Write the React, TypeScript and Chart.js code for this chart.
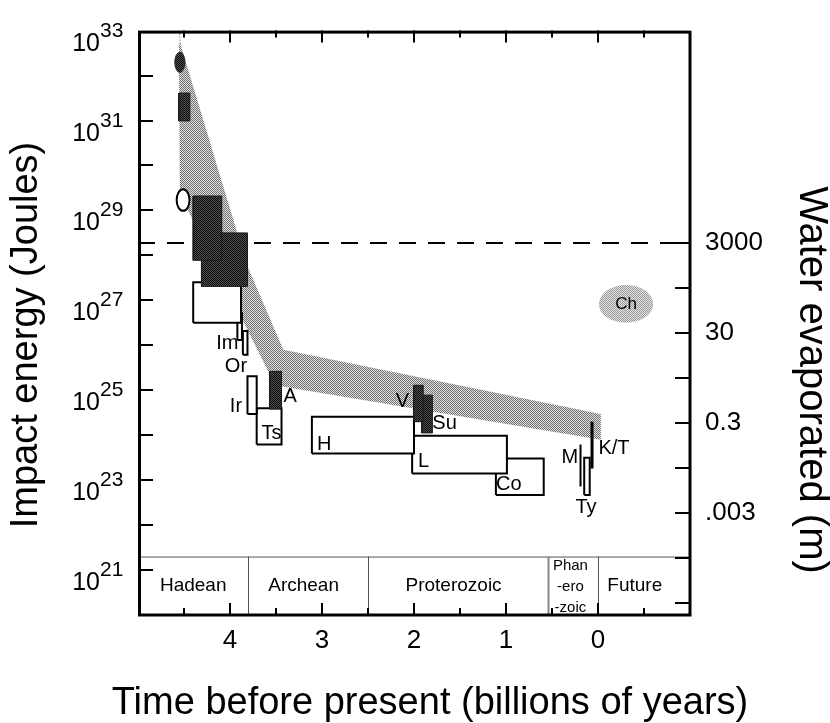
import React, { useEffect, useRef } from 'react';
import { Chart, registerables } from 'chart.js';

Chart.register(...registerables);

const FONT = '"Liberation Sans", Arial, Helvetica, sans-serif';

// ---------- axes ----------
const X_MIN = -1;
const X_MAX = 5;
const LOGE_MIN = 20;
const LOGE_MAX = 33;
const xTickLabels = [4, 3, 2, 1, 0];
const xTickMarks = [4.5, 4, 3.5, 3, 2.5, 2, 1.5, 1, 0.5, 0, -0.5];
const energyLabelExponents = [21, 23, 25, 27, 29, 31, 33];
const energyTickExponents = [21, 22, 23, 24, 25, 26, 27, 28, 29, 30, 31, 32];
const WATER_OFFSET = 24.8; // log10(J) per metre of water evaporated (approx.)
const waterLabelValues = [3000, 30, 0.3, 0.003];
const waterLabelTexts = ['3000', '30', '0.3', '.003'];
const waterTickValues = [3e-5, 3e-4, 3e-3, 3e-2, 0.3, 3, 30, 300, 3000];
const dashedWater = 3000;
const xTitle = 'Time before present (billions of years)';
const yTitle = 'Impact energy (Joules)';
const y2Title = 'Water evaporated (m)';

// ---------- shaded envelope ----------
const bandUpperX = [4.54, 3.815, 3.42, -0.03];
const bandUpperLogE = [32.71, 27.78, 25.9, 24.47];
const bandLowerX = [4.555, 4.545, 3.51, -0.03];
const bandLowerLogE = [32.71, 29.36, 25.11, 23.9];

// ---------- boxes (time range, log energy range) ----------
const boxNames = ['early', 'HadeanOpen', 'Hadean1', 'Hadean2', 'Im', 'Or', 'Ir', 'Ts', 'A', 'H', 'L', 'Co', 'Ty', 'V', 'Su'];
const boxXLeft = [4.556, 4.4, 4.4, 4.31, 3.92, 3.86, 3.81, 3.71, 3.57, 3.11, 2.02, 1.11, 0.15, 2.005, 1.916];
const boxXRight = [4.436, 3.88, 4.09, 3.81, 3.87, 3.81, 3.71, 3.44, 3.44, 2.0, 0.99, 0.59, 0.09, 1.9, 1.8];
const boxLogLow = [30.99, 26.5, 27.89, 27.31, 26.12, 25.79, 24.47, 23.79, 24.58, 23.59, 23.15, 22.67, 22.67, 24.3, 24.05];
const boxLogHigh = [31.61, 27.4, 29.32, 28.5, 26.72, 26.32, 25.31, 24.6, 25.42, 24.41, 23.99, 23.48, 23.5, 25.11, 24.89];
const boxDark = [true, false, true, true, false, false, false, false, true, false, false, false, false, true, true];

// ---------- vertical lines ----------
const lineNames = ['M', 'K/T'];
const lineX = [0.19, 0.065];
const lineLogLow = [22.86, 23.26];
const lineLogHigh = [23.79, 24.3];
const lineWidths = [2, 3];

// ---------- ellipses ----------
const ellipseNames = ['earlyEllipse', 'openEllipse', 'Ch'];
const ellXLeft = [4.6, 4.58, -0.01];
const ellXRight = [4.49, 4.44, -0.6];
const ellLogLow = [32.07, 28.99, 26.5];
const ellLogHigh = [32.52, 29.47, 27.34];
const ellStyle = ['dark', 'open', 'light'];

// ---------- text labels ----------
const labelTexts = ['Im', 'Or', 'Ir', 'A', 'Ts', 'H', 'V', 'Su', 'L', 'Co', 'M', 'Ty', 'K/T', 'Ch'];
const labelX = [4.03, 3.935, 3.935, 3.346, 3.55, 2.975, 2.125, 1.668, 1.896, 0.97, 0.305, 0.13, -0.174, -0.305];
const labelLogE = [26.04, 25.53, 24.63, 24.85, 24.03, 23.79, 24.74, 24.25, 23.41, 22.91, 23.5, 22.4, 23.7, 26.92];

// ---------- geological eras ----------
const eraNames = ['Hadean', 'Archean', 'Proterozoic', 'Phan|-ero|-zoic', 'Future'];
const eraStart = [5, 3.8, 2.5, 0.54, 0];
const eraLabelX = [4.4, 3.2, 1.57, 0.3, -0.4];
const eraTopLogE = 21.3;
const eraLabelLogE = 20.66;

const E = (l: number) => Math.pow(10, l);

function makePattern(fg: string, bg: string) {
  const c = document.createElement('canvas');
  c.width = 2;
  c.height = 2;
  const g = c.getContext('2d')!;
  g.fillStyle = bg;
  g.fillRect(0, 0, 2, 2);
  g.fillStyle = fg;
  g.fillRect(0, 0, 1, 1);
  g.fillRect(1, 1, 1, 1);
  return g.createPattern(c, 'repeat')!;
}

function rectPts(x1: number, x2: number, l1: number, l2: number) {
  return [
    { x: x1, y: E(l1) },
    { x: x2, y: E(l1) },
    { x: x2, y: E(l2) },
    { x: x1, y: E(l2) },
    { x: x1, y: E(l1) },
  ];
}

export default function App() {
  const ref = useRef<HTMLCanvasElement>(null);

  useEffect(() => {
    const canvas = ref.current!;
    const light = makePattern('#6e6e6e', '#e2e2e2');
    const dark = makePattern('#0c0c0c', '#505050');
    const chLight = makePattern('#999999', '#e4e4e4');

    const datasets: any[] = [];
    const bandPts = [
      ...bandUpperX.map((x, i) => ({ x, y: E(bandUpperLogE[i]) })),
      ...bandLowerX.map((x, i) => ({ x, y: E(bandLowerLogE[i]) })).reverse(),
    ];
    datasets.push({
      label: 'envelope',
      data: bandPts,
      fill: 'shape',
      backgroundColor: light,
      borderWidth: 0,
      borderColor: 'rgba(0,0,0,0)',
      order: 100,
    });
    datasets.push({
      label: 'apex',
      data: [
        { x: bandUpperX[0], y: E(bandUpperLogE[0]) },
        { x: bandUpperX[0] + 0.01, y: E(LOGE_MAX) },
      ],
      borderColor: '#444',
      borderWidth: 1,
      borderDash: [1, 2],
      fill: false,
      order: 95,
    });
    const dashedE = dashedWater * E(WATER_OFFSET);
    datasets.push({
      label: 'ocean vaporization',
      data: [
        { x: X_MAX, y: dashedE },
        { x: X_MIN, y: dashedE },
      ],
      borderColor: '#000',
      borderWidth: 2,
      borderDash: [17, 12],
      fill: false,
      order: 90,
    });
    boxNames.forEach((n, i) => {
      datasets.push({
        label: n,
        data: rectPts(boxXLeft[i], boxXRight[i], boxLogLow[i], boxLogHigh[i]),
        fill: 'shape',
        backgroundColor: boxDark[i] ? dark : '#ffffff',
        borderColor: boxDark[i] ? '#1a1a1a' : '#000',
        borderWidth: boxDark[i] ? 1 : 2,
        borderJoinStyle: 'miter',
        order: boxDark[i] ? 10 : 50,
      });
    });
    lineNames.forEach((n, i) => {
      datasets.push({
        label: n,
        data: [
          { x: lineX[i], y: E(lineLogLow[i]) },
          { x: lineX[i], y: E(lineLogHigh[i]) },
        ],
        borderColor: '#000',
        borderWidth: lineWidths[i],
        fill: false,
        order: 5,
      });
    });

    const decor = {
      id: 'decor',
      afterDatasetsDraw(chart: any) {
        const ctx = chart.ctx;
        const xs = chart.scales.x;
        const ys = chart.scales.y;
        const ca = chart.chartArea;
        ctx.save();
        ctx.beginPath();
        ctx.rect(ca.left, ca.top, ca.right - ca.left, ca.bottom - ca.top);
        ctx.clip();
        // ellipses
        ellipseNames.forEach((_, i) => {
          const x1 = xs.getPixelForValue(ellXLeft[i]);
          const x2 = xs.getPixelForValue(ellXRight[i]);
          const y1 = ys.getPixelForValue(E(ellLogLow[i]));
          const y2 = ys.getPixelForValue(E(ellLogHigh[i]));
          ctx.beginPath();
          ctx.ellipse((x1 + x2) / 2, (y1 + y2) / 2, Math.abs(x2 - x1) / 2, Math.abs(y2 - y1) / 2, 0, 0, Math.PI * 2);
          if (ellStyle[i] === 'dark') {
            ctx.fillStyle = dark;
            ctx.fill();
            ctx.lineWidth = 1;
            ctx.strokeStyle = '#222';
            ctx.stroke();
          } else if (ellStyle[i] === 'open') {
            ctx.fillStyle = '#fff';
            ctx.fill();
            ctx.lineWidth = 2;
            ctx.strokeStyle = '#000';
            ctx.stroke();
          } else {
            ctx.fillStyle = chLight;
            ctx.fill();
          }
        });
        // era band
        const eraTop = ys.getPixelForValue(E(eraTopLogE));
        ctx.strokeStyle = '#555';
        ctx.lineWidth = 1;
        ctx.beginPath();
        ctx.moveTo(ca.left, eraTop + 0.5);
        ctx.lineTo(ca.right, eraTop + 0.5);
        ctx.stroke();
        eraStart.forEach((s, i) => {
          if (i === 0) return;
          const px = Math.round(xs.getPixelForValue(s)) + 0.5;
          ctx.strokeStyle = i === 3 ? '#888' : '#555';
          ctx.lineWidth = i === 3 ? 2 : 1;
          ctx.beginPath();
          ctx.moveTo(px, eraTop);
          ctx.lineTo(px, ca.bottom);
          ctx.stroke();
        });
        ctx.fillStyle = '#000';
        ctx.textAlign = 'center';
        ctx.textBaseline = 'middle';
        eraNames.forEach((n, i) => {
          const px = xs.getPixelForValue(eraLabelX[i]);
          const py = ys.getPixelForValue(E(eraLabelLogE));
          const parts = n.split('|');
          if (parts.length === 1) {
            ctx.font = `19px ${FONT}`;
            ctx.fillText(n, px, py);
          } else {
            ctx.font = `15px ${FONT}`;
            parts.forEach((p, k) => ctx.fillText(p, px, py + (k - 1) * 21 + 2));
          }
        });
        // point labels
        labelTexts.forEach((t, i) => {
          ctx.font = t === 'Ch' ? `17px ${FONT}` : `20px ${FONT}`;
          ctx.fillText(t, xs.getPixelForValue(labelX[i]), ys.getPixelForValue(E(labelLogE[i])));
        });
        ctx.restore();
      },
      afterDraw(chart: any) {
        const ctx = chart.ctx;
        const xs = chart.scales.x;
        const ys = chart.scales.y;
        const y2 = chart.scales.y2;
        const ca = chart.chartArea;
        ctx.save();
        ctx.strokeStyle = '#000';
        // ticks (pointing inward)
        ctx.lineWidth = 2;
        energyTickExponents.forEach((e) => {
          const py = Math.round(ys.getPixelForValue(E(e)));
          ctx.beginPath();
          ctx.moveTo(ca.left, py);
          ctx.lineTo(ca.left + 15, py);
          ctx.stroke();
        });
        waterTickValues.forEach((w) => {
          const py = Math.round(y2.getPixelForValue(w));
          ctx.beginPath();
          ctx.moveTo(ca.right, py);
          ctx.lineTo(ca.right - 15, py);
          ctx.stroke();
        });
        xTickMarks.forEach((v) => {
          const px = Math.round(xs.getPixelForValue(v));
          const len = Number.isInteger(v) ? 12 : 7;
          ctx.beginPath();
          ctx.moveTo(px, ca.top);
          ctx.lineTo(px, ca.top + len);
          ctx.moveTo(px, ca.bottom);
          ctx.lineTo(px, ca.bottom - len);
          ctx.stroke();
        });
        // frame
        ctx.lineWidth = 3;
        ctx.strokeRect(ca.left + 1.5, ca.top + 1.5, ca.right - ca.left - 1.5, ca.bottom - ca.top - 1.5);
        // left tick labels 10^n
        ctx.fillStyle = '#000';
        energyLabelExponents.forEach((e) => {
          const py = ys.getPixelForValue(E(e));
          ctx.font = `25px ${FONT}`;
          ctx.textAlign = 'right';
          ctx.textBaseline = 'alphabetic';
          ctx.fillText('10', 100, py + 20);
          ctx.font = `21px ${FONT}`;
          ctx.textAlign = 'left';
          ctx.fillText(String(e), 100, py + 6);
        });
        // axis titles
        ctx.textBaseline = 'alphabetic';
        ctx.textAlign = 'center';
        ctx.font = `38px ${FONT}`;
        ctx.fillText(xTitle, 430, 714);
        ctx.save();
        ctx.translate(37, 335);
        ctx.rotate(-Math.PI / 2);
        ctx.fillText(yTitle, 0, 0);
        ctx.restore();
        ctx.save();
        ctx.font = `40px ${FONT}`;
        ctx.translate(800, 380);
        ctx.rotate(Math.PI / 2);
        ctx.fillText(y2Title, 0, 0);
        ctx.restore();
        ctx.restore();
      },
    };

    const chart = new Chart(canvas, {
      type: 'line',
      data: { datasets },
      options: {
        animation: false,
        responsive: false,
        events: [],
        layout: { padding: { top: 25, left: 0, right: 0, bottom: 0 } },
        elements: { point: { radius: 0, hoverRadius: 0 }, line: { tension: 0 } },
        plugins: { legend: { display: false }, tooltip: { enabled: false } },
        scales: {
          x: {
            type: 'linear',
            min: X_MIN,
            max: X_MAX,
            reverse: true,
            position: 'bottom',
            grid: { display: false, drawTicks: false },
            border: { display: false },
            afterBuildTicks: (s: any) => {
              s.ticks = xTickLabels.map((v) => ({ value: v }));
            },
            ticks: {
              color: '#000',
              font: { family: FONT, size: 26 },
              padding: 10,
              autoSkip: false,
              maxRotation: 0,
              callback: (v: any) => String(v),
            },
            afterFit: (s: any) => {
              s.height = 108;
            },
          },
          y: {
            type: 'logarithmic',
            min: E(LOGE_MIN),
            max: E(LOGE_MAX),
            position: 'left',
            grid: { display: false, drawTicks: false },
            border: { display: false },
            ticks: { display: false },
            afterFit: (s: any) => {
              s.width = 138;
            },
          },
          y2: {
            type: 'logarithmic',
            min: E(LOGE_MIN - WATER_OFFSET),
            max: E(LOGE_MAX - WATER_OFFSET),
            position: 'right',
            grid: { display: false, drawTicks: false },
            border: { display: false },
            afterBuildTicks: (s: any) => {
              s.ticks = waterLabelValues.map((v) => ({ value: v }));
            },
            ticks: {
              color: '#000',
              font: { family: FONT, size: 26 },
              padding: 15,
              autoSkip: false,
              callback: (_v: any, i: number) => waterLabelTexts[i],
            },
            afterFit: (s: any) => {
              s.width = 140;
            },
          },
        },
      },
      plugins: [decor],
    } as any);

    return () => chart.destroy();
  }, []);

  return (
    <div style={{ position: 'absolute', left: 0, top: 0, width: 830, height: 723, background: '#fff' }}>
      <canvas ref={ref} width={830} height={723} style={{ display: 'block' }} />
    </div>
  );
}
